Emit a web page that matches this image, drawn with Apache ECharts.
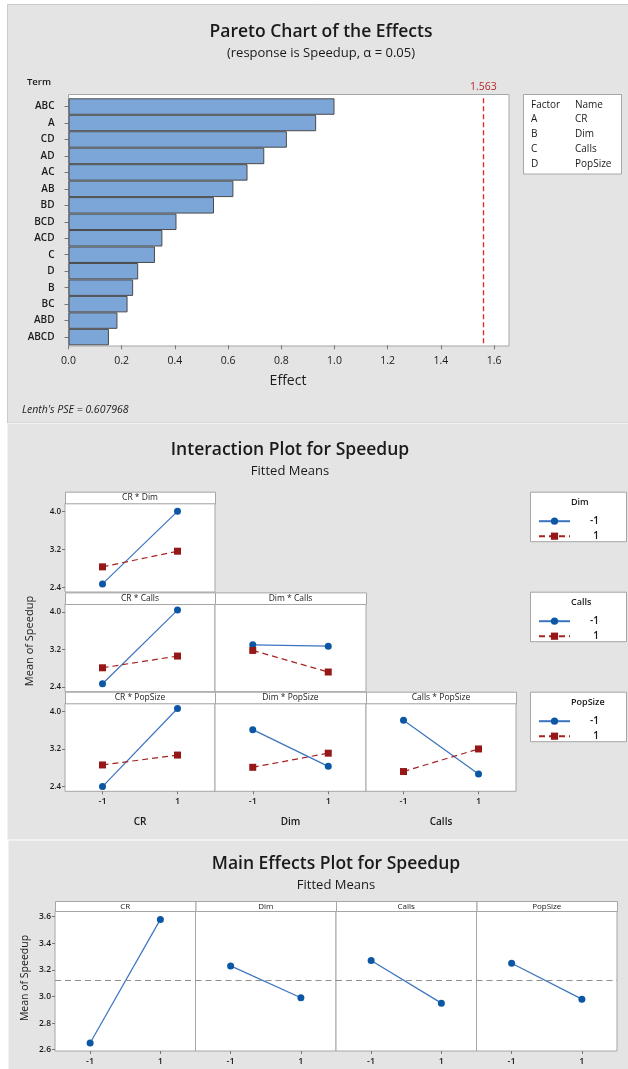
<!DOCTYPE html>
<html>
<head>
<meta charset="utf-8">
<script src="https://cdn.jsdelivr.net/npm/echarts@6/dist/echarts.min.js"></script>
<style>
html,body{margin:0;padding:0;background:#fff;}
#c{width:628px;height:1069px;}
</style>
</head>
<body>
<div id="c"></div>
<script>
// ---------------- DATA ----------------
const paretoTerms   = ['ABC','A','CD','AD','AC','AB','BD','BCD','ACD','C','D','B','BC','ABD','ABCD'];
const paretoEffects = [1.000,0.931,0.821,0.736,0.673,0.620,0.547,0.406,0.353,0.325,0.262,0.243,0.222,0.184,0.152];
const paretoTicks   = [0,0.2,0.4,0.6,0.8,1.0,1.2,1.4,1.6];
const criticalEffect = 1.563;
const lenthPSE = '0.607968';
const factorCodes = ['A','B','C','D'];
const factorNames = ['CR','Dim','Calls','PopSize'];

const levels = [-1, 1];
const levelLabels = ['-1','1'];
// interaction means: [at level -1, at level 1] of x-factor, for trace level -1 (low) / 1 (high)
const crDimLow    = [2.47, 4.00], crDimHigh    = [2.83, 3.16];
const crCallsLow  = [2.47, 4.04], crCallsHigh  = [2.81, 3.06];
const dimCallsLow = [3.30, 3.27], dimCallsHigh = [3.18, 2.72];
const crPopLow    = [2.40, 4.06], crPopHigh    = [2.86, 3.07];
const dimPopLow   = [3.61, 2.83], dimPopHigh   = [2.81, 3.11];
const callsPopLow = [3.81, 2.67], callsPopHigh = [2.72, 3.20];
const interactionTicks = [2.4, 3.2, 4.0];

// main effects
const crMeans    = [2.65, 3.58];
const dimMeans   = [3.23, 2.99];
const callsMeans = [3.27, 2.95];
const popMeans   = [3.25, 2.98];
const grandMean  = 3.12;
const mainTicks  = [2.6, 2.8, 3.0, 3.2, 3.4, 3.6];

// ---------------- STYLE / LAYOUT ----------------
const F = '"Open Sans", "Noto Sans", sans-serif';
const TXT = '#1a1a1a';
const FRAME = '#a6a6a6';
const BLUE_LINE = '#3a74bf', BLUE_PT = '#0b57a4';
const RED_LINE = '#a52222', RED_PT = '#951717';

const interactionPanels = [
  {title:'CR * Dim',       x:0, low:crDimLow,    high:crDimHigh,    g:{left:65,  top:503.3, width:150, height:88.7}, ylab:true,  xlab:false},
  {title:'CR * Calls',     x:0, low:crCallsLow,  high:crCallsHigh,  g:{left:65,  top:604,   width:150, height:87.7}, ylab:true,  xlab:false},
  {title:'Dim * Calls',    x:1, low:dimCallsLow, high:dimCallsHigh, g:{left:215, top:604,   width:151, height:87.7}, ylab:false, xlab:false},
  {title:'CR * PopSize',   x:0, low:crPopLow,    high:crPopHigh,    g:{left:65,  top:703.3, width:150, height:88},   ylab:true,  xlab:true},
  {title:'Dim * PopSize',  x:1, low:dimPopLow,   high:dimPopHigh,   g:{left:215, top:703.3, width:151, height:88},   ylab:false, xlab:true},
  {title:'Calls * PopSize',x:2, low:callsPopLow, high:callsPopHigh, g:{left:366, top:703.3, width:150, height:88},   ylab:false, xlab:true}
];
const headerH = 11.6;
const mainPanels = [
  {title:'CR', vals:crMeans}, {title:'Dim', vals:dimMeans},
  {title:'Calls', vals:callsMeans}, {title:'PopSize', vals:popMeans}
];
const mainLefts = [55, 195.5, 336, 476.5];
const mainW = 140.5, mainTop = 911, mainH = 140;

const grid = [], xAxis = [], yAxis = [], series = [], graphic = [], legend = [];

// panel backgrounds
graphic.push({type:'rect', z:-10, shape:{x:7.5,y:4.5,width:625,height:418.5}, style:{fill:'#e4e4e4', stroke:'#cbcbcb', lineWidth:1}});
graphic.push({type:'rect', z:-10, shape:{x:7.5,y:423.5,width:625,height:416}, style:{fill:'#e4e4e4', stroke:'#f2f2f2', lineWidth:1}});
graphic.push({type:'rect', z:-10, shape:{x:8.5,y:840.5,width:625,height:240}, style:{fill:'#e4e4e4', stroke:'#f2f2f2', lineWidth:1}});

function txt(x, y, text, size, opts) {
  graphic.push(Object.assign({type:'text', z:5, x:x, y:y,
    style:Object.assign({text:text, fontFamily:F, fontSize:size, fill:TXT, textAlign:'center', textVerticalAlign:'middle'}, (opts && opts.style) || {})},
    (opts && opts.el) || {}));
}

// ---------------- PARETO ----------------
txt(321, 32, 'Pareto Chart of the Effects', 17.5, {style:{fontWeight:600}});
txt(321, 53.5, '(response is Speedup, \u03b1 = 0.05)', 13, {style:{fontWeight:500}});
txt(27, 82.5, 'Term', 9.5, {style:{textAlign:'left', fontWeight:600}});
graphic.push({type:'rect', z:-1, shape:{x:68.5,y:94.5,width:440.5,height:251.5}, style:{fill:'#fff', stroke:FRAME, lineWidth:1}});
txt(288, 381, 'Effect', 14, {style:{fontWeight:500}});
txt(22, 410, "Lenth's PSE = " + lenthPSE, 10.5, {style:{textAlign:'left', fontStyle:'italic'}});
// factor table
graphic.push({type:'rect', z:-1, shape:{x:523.5,y:94.5,width:98,height:79.5}, style:{fill:'#fff', stroke:FRAME, lineWidth:1}});
txt(531, 105, 'Factor', 10, {style:{textAlign:'left', fontWeight:500}});
txt(575, 105, 'Name', 10, {style:{textAlign:'left', fontWeight:500}});
factorCodes.forEach((c, i) => {
  txt(531, 119.3 + i * 15, c, 10, {style:{textAlign:'left', fontWeight:500}});
  txt(575, 119.3 + i * 15, factorNames[i], 10, {style:{textAlign:'left', fontWeight:500}});
});

const pg = grid.length;
grid.push({left:68.5, top:98.3, width:440.5, height:247, show:false});
xAxis.push({gridIndex:pg, type:'value', min:0, max:1.656,
  axisLine:{show:false, onZero:false}, splitLine:{show:false},
  axisTick:{show:true, length:4, customValues:paretoTicks, lineStyle:{color:'#777'}},
  axisLabel:{customValues:paretoTicks, formatter:v => v.toFixed(1), fontFamily:F, fontSize:10.5, fontWeight:500, color:TXT, margin:10}});
yAxis.push({gridIndex:pg, type:'category', inverse:true, data:paretoTerms,
  axisLine:{show:false, onZero:false},
  axisTick:{show:true, alignWithLabel:true, length:4, lineStyle:{color:'#777'}},
  axisLabel:{fontFamily:F, fontSize:10, fontWeight:600, color:TXT, margin:14}});
series.push({type:'bar', xAxisIndex:xAxis.length-1, yAxisIndex:yAxis.length-1, data:paretoEffects,
  barCategoryGap:'0%', itemStyle:{color:'#7ca5d8', borderColor:'#4a4a4a', borderWidth:1}, silent:true,
  markLine:{silent:true, symbol:'none', data:[{xAxis:criticalEffect}],
    lineStyle:{type:[5,3], color:'#e02424', width:1.3},
    label:{show:true, position:'start', formatter:String(criticalEffect), color:'#b42a2a', fontFamily:F, fontSize:10.5, distance:6}}});

// ---------------- INTERACTION ----------------
txt(290, 450, 'Interaction Plot for Speedup', 17.5, {style:{fontWeight:600}});
txt(290, 471, 'Fitted Means', 13, {style:{fontWeight:500}});
graphic.push({type:'text', z:5, x:30, y:641, rotation:Math.PI/2,
  style:{text:'Mean of Speedup', fontFamily:F, fontSize:11, fontWeight:500, fill:TXT, textAlign:'center', textVerticalAlign:'middle'}});

interactionPanels.forEach((p, i) => {
  const gi = grid.length;
  grid.push(Object.assign({show:true, backgroundColor:'#fff', borderColor:FRAME, borderWidth:1}, p.g));
  graphic.push({type:'rect', z:1, shape:{x:p.g.left+0.5, y:p.g.top-headerH+0.5, width:p.g.width, height:headerH}, style:{fill:'#fff', stroke:FRAME, lineWidth:1}});
  txt(p.g.left + p.g.width/2, p.g.top - headerH/2 + 0.5, p.title, 8.5, {style:{fontWeight:500}});
  xAxis.push({gridIndex:gi, type:'value', min:-2, max:2,
    name: p.xlab ? factorNames[p.x] : '', nameLocation:'middle', nameGap:26,
    nameTextStyle:{fontFamily:F, fontSize:10, color:TXT, fontWeight:600},
    axisLine:{show:false, onZero:false}, splitLine:{show:false},
    axisTick:{show:p.xlab, length:3, customValues:levels, lineStyle:{color:'#777'}},
    axisLabel:{show:p.xlab, customValues:levels, formatter:v => String(v), fontFamily:F, fontSize:9, fontWeight:600, color:TXT, margin:6}});
  yAxis.push({gridIndex:gi, type:'value', min:2.3, max:4.17,
    axisLine:{show:false, onZero:false}, splitLine:{show:false},
    axisTick:{show:p.ylab, length:3, customValues:interactionTicks, lineStyle:{color:'#777'}},
    axisLabel:{show:p.ylab, customValues:interactionTicks, formatter:v => v.toFixed(1), fontFamily:F, fontSize:8, fontWeight:600, color:TXT, margin:4}});
  const xi = xAxis.length-1, yi = yAxis.length-1;
  series.push({type:'line', name:'-1', xAxisIndex:xi, yAxisIndex:yi,
    data: levels.map((l, k) => [l, p.low[k]]), symbol:'circle', symbolSize:7,
    lineStyle:{color:BLUE_LINE, width:1.2}, itemStyle:{color:BLUE_PT}, silent:true});
  series.push({type:'line', name:'1', xAxisIndex:xi, yAxisIndex:yi,
    data: levels.map((l, k) => [l, p.high[k]]), symbol:'rect', symbolSize:7,
    lineStyle:{color:RED_LINE, width:1.2, type:[6,4]}, itemStyle:{color:RED_PT}, silent:true});
});

// interaction legends
const legendTops = [491.7, 591.7, 691.7];
['Dim','Calls','PopSize'].forEach((name, i) => {
  const t = legendTops[i];
  graphic.push({type:'rect', z:-1, shape:{x:530.5, y:t+0.5, width:96, height:49.5}, style:{fill:'#fff', stroke:FRAME, lineWidth:1}});
  txt(571, t + 10.5, name, 9, {style:{textAlign:'left', fontWeight:600}});
  legend.push({show:true, orient:'vertical', left:533, top:t + 19.5, itemWidth:31, itemHeight:9, itemGap:5,
    selectedMode:false, data:levelLabels,
    formatter: n => '{a|' + n + '}',
    textStyle:{fontFamily:F, fontSize:10, color:TXT, fontWeight:600, rich:{a:{width:24, align:'right', fontFamily:F, fontSize:10, fontWeight:600}}}});
});

// ---------------- MAIN EFFECTS ----------------
txt(336, 864, 'Main Effects Plot for Speedup', 17.5, {style:{fontWeight:600}});
txt(336, 885.5, 'Fitted Means', 13, {style:{fontWeight:500}});
graphic.push({type:'text', z:5, x:25, y:978, rotation:Math.PI/2,
  style:{text:'Mean of Speedup', fontFamily:F, fontSize:10.5, fontWeight:500, fill:TXT, textAlign:'center', textVerticalAlign:'middle'}});
const mainHeaderH = 10;
mainPanels.forEach((p, i) => {
  const gi = grid.length;
  const left = mainLefts[i];
  grid.push({show:true, backgroundColor:'#fff', borderColor:FRAME, borderWidth:1, left:left, top:mainTop, width:mainW, height:mainH});
  graphic.push({type:'rect', z:1, shape:{x:left+0.5, y:mainTop-mainHeaderH+0.5, width:mainW, height:mainHeaderH}, style:{fill:'#fff', stroke:FRAME, lineWidth:1}});
  txt(left + mainW/2, mainTop - mainHeaderH/2 + 0.5, p.title, 8, {style:{fontWeight:500}});
  xAxis.push({gridIndex:gi, type:'value', min:-2, max:2,
    axisLine:{show:false, onZero:false}, splitLine:{show:false},
    axisTick:{show:true, length:3, customValues:levels, lineStyle:{color:'#777'}},
    axisLabel:{customValues:levels, formatter:v => String(v), fontFamily:F, fontSize:9, fontWeight:600, color:TXT, margin:6}});
  yAxis.push({gridIndex:gi, type:'value', min:2.59, max:3.643,
    axisLine:{show:false, onZero:false}, splitLine:{show:false},
    axisTick:{show:i===0, length:3, customValues:mainTicks, lineStyle:{color:'#777'}},
    axisLabel:{show:i===0, customValues:mainTicks, formatter:v => v.toFixed(1), fontFamily:F, fontSize:8.5, fontWeight:600, color:TXT, margin:4}});
  series.push({type:'line', xAxisIndex:xAxis.length-1, yAxisIndex:yAxis.length-1,
    data: levels.map((l, k) => [l, p.vals[k]]), symbol:'circle', symbolSize:7,
    lineStyle:{color:BLUE_LINE, width:1.2}, itemStyle:{color:BLUE_PT}, silent:true,
    markLine:{silent:true, symbol:'none', label:{show:false}, data:[{yAxis:grandMean}],
      lineStyle:{type:[6,4], color:'#8e8e8e', width:1}}});
});

const chart = echarts.init(document.getElementById('c'), null, {renderer:'canvas'});
chart.setOption({animation:false, grid, xAxis, yAxis, series, graphic, legend});
</script>
</body>
</html>
